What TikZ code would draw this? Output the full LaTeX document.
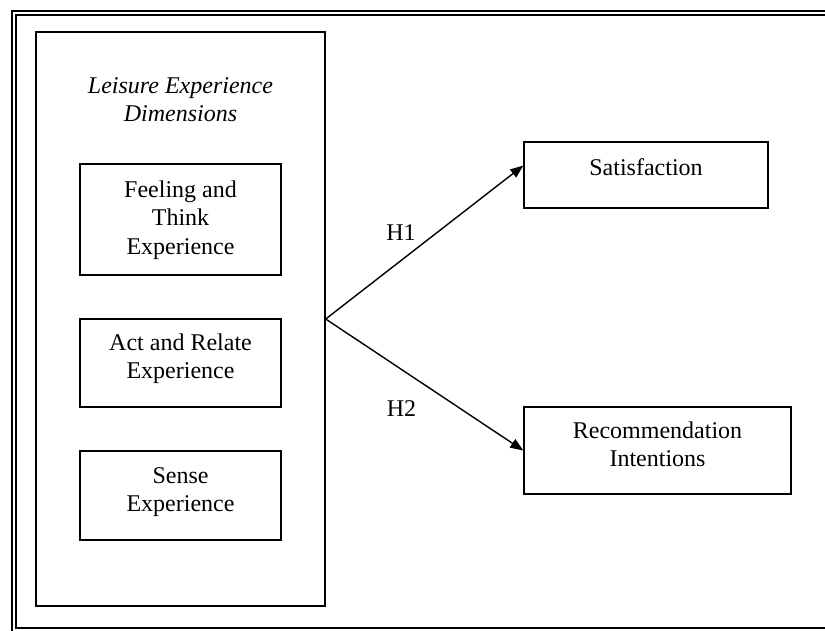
\documentclass[tikz,border=0pt]{standalone}
\usepackage{fontspec}
\setmainfont{Liberation Serif}
\usetikzlibrary{arrows.meta,calc}
\begin{document}
\begin{tikzpicture}[x=1pt,y=-1pt,
  box/.style={draw, line width=1.4pt, inner sep=0pt, minimum width=#1},
  txt/.style={inner sep=0pt, align=center, anchor=north, font=\fontsize{24}{28.5}\selectfont},
  arr/.style={line width=1.4pt, -{Triangle[length=13pt,width=10pt]}}]
\useasboundingbox (0,0) rectangle (825,630);
\clip (0,0) rectangle (825,630);
% outer frame (cropped on the right and bottom)
\draw[line width=2pt] (12,11) rectangle (900,700);
\draw[line width=1.8pt] (16,15) rectangle (880,628);
% boxes
\node[box=289pt, minimum height=574pt] (big) at (180.5,319) {};
\node[box=201pt, minimum height=111pt] (feel) at (180.5,219.5) {};
\node[box=201pt, minimum height=88pt] (act) at (180.5,363) {};
\node[box=201pt, minimum height=89pt] (sense) at (180.5,495.5) {};
\node[box=244pt, minimum height=66pt] (sat) at (646,175) {};
\node[box=267pt, minimum height=87pt] (rec) at (657.5,450.5) {};
% texts (anchor north = first baseline - 20)
\node[txt] (title) at (180.5,73) {\strut\itshape Leisure Experience\\\itshape Dimensions};
\node[txt] (feeltxt) at (180.5,177) {\strut Feeling and\\Think\\Experience};
\node[txt] (acttxt) at (180.5,330) {\strut Act and Relate\\Experience};
\node[txt] (sensetxt) at (180.5,463) {\strut Sense\\Experience};
\node[txt] (sattxt) at (646,155) {\strut Satisfaction};
\node[txt] (rectxt) at (657.5,418) {\strut Recommendation\\Intentions};
% arrows
\coordinate (satin) at ($(sat.north west)!0.36!(sat.south west)$);
\draw[arr] (big.east) -- (satin);
\draw[arr] (big.east) -- (rec.west);
\node[txt] (h1) at (401,220) {\strut H1};
\node[txt] (h2) at (401.5,396) {\strut H2};
\end{tikzpicture}
\end{document}
